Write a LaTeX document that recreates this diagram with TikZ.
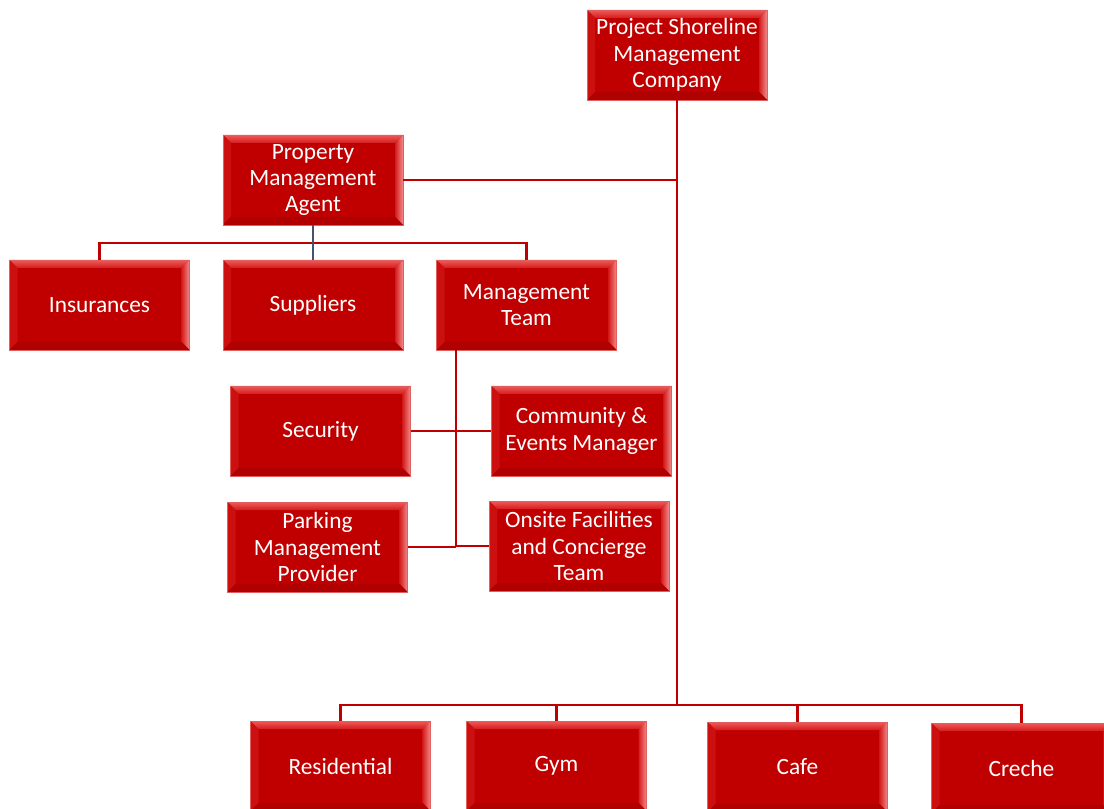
\documentclass[tikz,border=0pt]{standalone}
\usepackage{fontspec}
\setmainfont{Carlito}
\usepackage{tikz}
\usetikzlibrary{calc,positioning}

\definecolor{unitred}{HTML}{C00000}
\definecolor{bevlight}{HTML}{F05A5A}
\definecolor{bevmid}{HTML}{D41C1C}
\definecolor{bevleft}{HTML}{CC1010}
\definecolor{bevpink}{HTML}{F28C8C}
\definecolor{bevdark}{HTML}{B00000}
\definecolor{bevedge}{HTML}{E06060}
\definecolor{slateline}{HTML}{44546A}

\newcommand{\unitfont}{\fontsize{17.5}{19.8}\selectfont}

\tikzset{
  unit/.style={draw=bevedge, line width=0.6pt, fill=unitred, text=white,
    minimum width=135pt, minimum height=67.5pt, inner sep=2pt,
    align=center, font=\unitfont,
    path picture={
      \coordinate (nw) at (path picture bounding box.north west);
      \coordinate (ne) at (path picture bounding box.north east);
      \coordinate (sw) at (path picture bounding box.south west);
      \coordinate (se) at (path picture bounding box.south east);
      \shade[top color=bevlight, bottom color=bevmid]
        (nw) -- (ne) -- ([shift={(-6pt,-6pt)}]ne) -- ([shift={(6pt,-6pt)}]nw) -- cycle;
      \fill[bevleft]
        (nw) -- ([shift={(6pt,-6pt)}]nw) -- ([shift={(6pt,6pt)}]sw) -- (sw) -- cycle;
      \shade[left color=bevmid, right color=bevpink]
        (ne) -- (se) -- ([shift={(-6pt,6pt)}]se) -- ([shift={(-6pt,-6pt)}]ne) -- cycle;
      \fill[bevdark]
        (sw) -- ([shift={(6pt,6pt)}]sw) -- ([shift={(-6pt,6pt)}]se) -- (se) -- cycle;
    }},
  link/.style={draw=unitred, line width=2.2pt},
}

\begin{document}
\begin{tikzpicture}[x=0.75pt,y=-0.75pt]
  \useasboundingbox (0,0) rectangle (1104,809);

  % company and agent
  \node[unit] (top) at (677,55) {Project Shoreline\\Management\\Company};
  \node[unit] (pma) at (313,180) {Property\\Management\\Agent};

  % agent's units
  \node[unit] (ins) at (99.5,305) {Insurances};
  \node[unit] (sup) at (313,305) {Suppliers};
  \node[unit] (mgmt) at (526.5,305) {Management\\Team};

  % management team
  \node[unit] (sec) at (320.5,431) {Security};
  \node[unit] (comm) at (581.5,431) {Community \&\\Events Manager};
  \node[unit] (park) at (317.5,547) {Parking\\Management\\Provider};
  \node[unit] (onsite) at (579,546) {Onsite Facilities\\and Concierge\\Team};

  % bottom row
  \node[unit] (res) at (340.5,766) {Residential};
  \node[unit] (gym) at (556.5,766) {Gym};
  \node[unit] (cafe) at (797.5,767) {Cafe};
  \node[unit] (cre) at (1021.5,768) {Creche};

  \coordinate (busA) at (313,243);
  \coordinate (busB) at (677,705);
  \coordinate (spine) at (456,547);

  % connectors
  \draw[link] (top.south) -- (top.south |- busB);
  \draw[link] (pma.east) -- (pma.east -| top.south);
  \draw[link] (ins.north) |- (busA) -| (mgmt.north);
  \draw[slateline, line width=2.2pt] (pma.south) -- (sup.north);
  \draw[link] (spine |- mgmt.south) -- (spine);
  \draw[link] (sec.east) -- (sec.east -| spine);
  \draw[link] (comm.west) -- (comm.west -| spine);
  \draw[link] (park.east) -- (park.east -| spine);
  \draw[link] (onsite.west) -- (onsite.west -| spine);
  \draw[link] (res.north) |- (busB) -| (cre.north);
  \draw[link] (gym.north) -- (gym.north |- busB);
  \draw[link] (cafe.north) -- (cafe.north |- busB);
\end{tikzpicture}
\end{document}
